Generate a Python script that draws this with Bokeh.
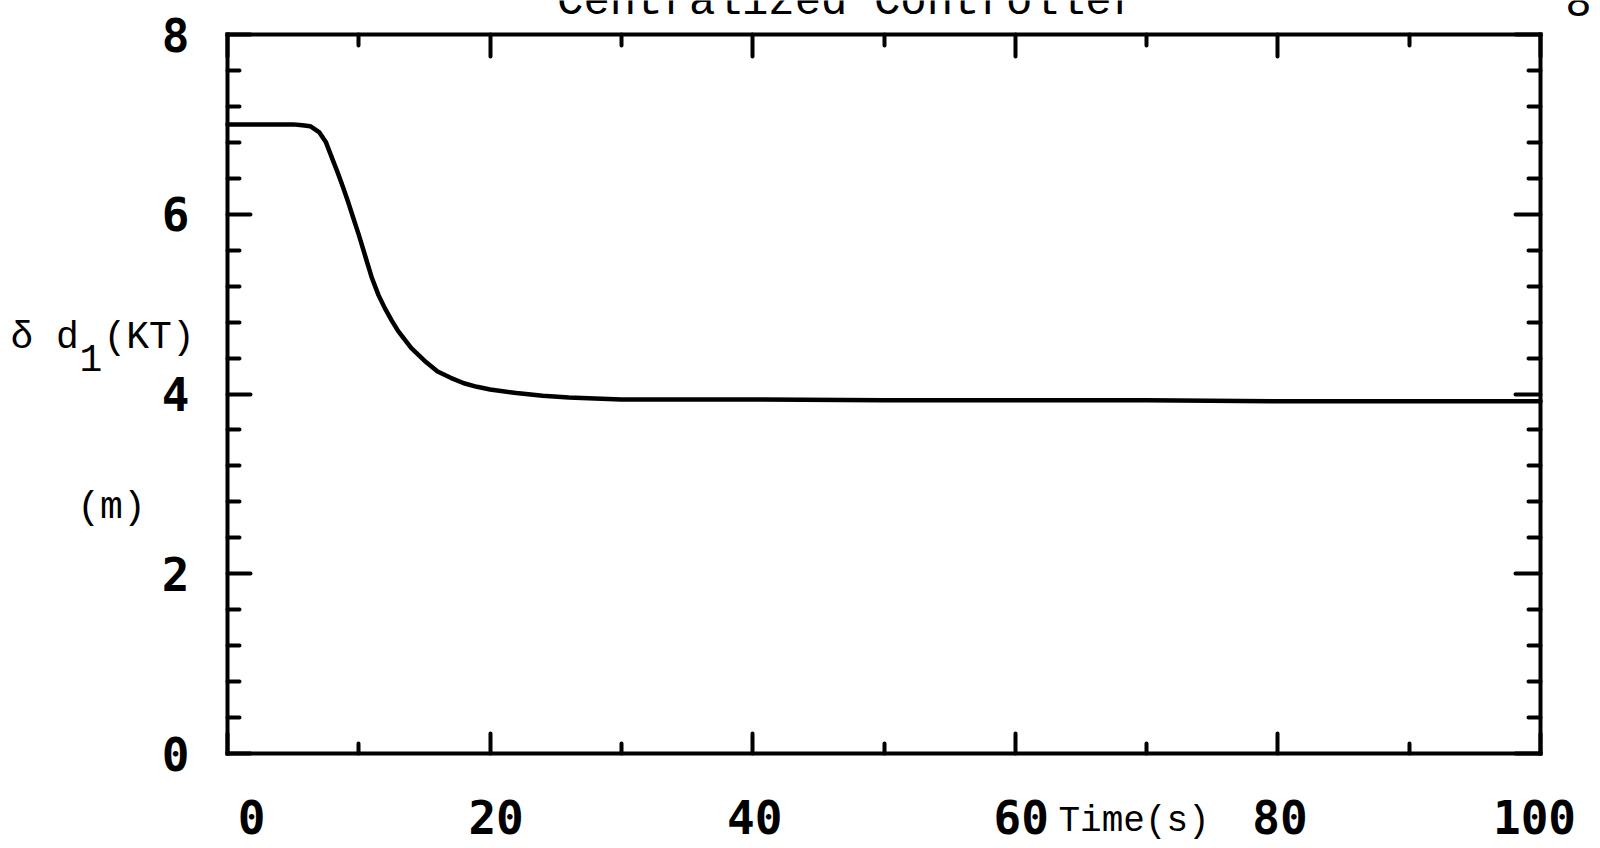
from bokeh.plotting import figure
from bokeh.models import FixedTicker, LinearAxis, Range1d, Label
from bokeh.core.properties import value
from bokeh.embed import file_html
from bokeh.resources import INLINE

# Response of delta d1 (KT) under the centralized controller
time_s = [0.0, 3.0, 5.0, 5.7, 6.3, 7.0, 7.5, 8.0, 8.4, 8.8, 9.2, 9.6, 10.0,
          10.5, 11.0, 11.5, 12.0, 12.5, 13.0, 14.0, 15.0, 16.0, 17.0, 18.0,
          19.0, 20.0, 22.0, 24.0, 26.0, 28.0, 30.0, 35.0, 40.0, 50.0, 60.0,
          70.0, 80.0, 90.0, 100.0]
delta_d1 = [7.00, 7.00, 7.00, 6.99, 6.98, 6.91, 6.80, 6.61, 6.46, 6.30, 6.13,
            5.95, 5.77, 5.53, 5.29, 5.10, 4.95, 4.82, 4.70, 4.51, 4.37, 4.25,
            4.18, 4.12, 4.08, 4.05, 4.01, 3.98, 3.96, 3.95, 3.94, 3.94, 3.94,
            3.93, 3.93, 3.93, 3.92, 3.92, 3.92]

x_major = [0, 20, 40, 60, 80, 100]
x_minor = [10, 30, 50, 70, 90]
x_tick_labels = ["0", "20", "40", "60", "80", "100"]
y_major = [0, 2, 4, 6, 8]
y_minor = [0.4, 0.8, 1.2, 1.6, 2.4, 2.8, 3.2, 3.6, 4.4, 4.8, 5.2, 5.6,
           6.4, 6.8, 7.2, 7.6]
y_tick_labels = ["0", "2", "4", "6", "8"]

# page geometry (pixels) of the plotting box
W, H = 1600, 848
LEFT, RIGHT, TOP, BOTTOM = 227, 1540, 34, 753
X0, X1, Y0, Y1 = 0, 100, 0, 8
KX = (RIGHT - LEFT) / (X1 - X0)
KY = (BOTTOM - TOP) / (Y1 - Y0)


def dx(px):
    return X0 + (px - LEFT) / KX


def dy(py):
    return Y0 + (BOTTOM - py) / KY


# the drawing area spans the whole page so that the texts around the box stay visible
p = figure(width=W, height=H, output_backend="svg", toolbar_location=None,
           x_range=Range1d(dx(0), dx(W)), y_range=Range1d(dy(H), dy(0)),
           min_border=0, min_border_left=0, min_border_right=0,
           min_border_top=0, min_border_bottom=0,
           x_axis_location=None, y_axis_location=None)
p.grid.visible = False
p.outline_line_color = None
p.background_fill_color = "white"
p.border_fill_color = "white"


def box_axis(loc, bounds, major, minor, long_len, short_len):
    ax = LinearAxis(fixed_location=loc, bounds=bounds)
    ax.ticker = FixedTicker(ticks=major, minor_ticks=minor)
    ax.axis_line_width = 4
    ax.axis_line_color = "black"
    ax.axis_line_cap = "square"
    ax.major_tick_line_width = 4
    ax.minor_tick_line_width = 4
    ax.major_tick_line_color = "black"
    ax.minor_tick_line_color = "black"
    ax.major_tick_line_cap = "round"
    ax.minor_tick_line_cap = "round"
    ax.major_tick_in = long_len
    ax.major_tick_out = 0
    ax.minor_tick_in = short_len
    ax.minor_tick_out = 0
    ax.major_label_text_font_size = "0px"
    ax.major_label_standoff = 0
    return ax


p.add_layout(box_axis(Y0, (X0, X1), x_major, x_minor, 20, 10), "below")
p.add_layout(box_axis(Y1, (X0, X1), x_major, x_minor, 22, 11), "above")
p.add_layout(box_axis(X0, (Y0, Y1), y_major, y_minor, 23, 12), "left")
p.add_layout(box_axis(X1, (Y0, Y1), y_major, y_minor, 25, 12), "right")

p.line(time_s, delta_d1, line_color="black", line_width=4.5,
       line_join="round", line_cap="round")

# tick numbers in the plotter face
tick_font = value("DejaVu Sans Mono")
x_nudge_px = [24, 6, 2, 6, 2, -6]
p.text(x=x_major, y=[dy(816)] * len(x_major), text=x_tick_labels,
       x_offset=x_nudge_px, text_font=tick_font, text_font_style="bold",
       text_font_size="46px", text_color="black",
       text_align="center", text_baseline="middle")
p.text(x=[dx(189)] * len(y_major), y=y_major, text=y_tick_labels,
       text_font=tick_font, text_font_style="bold",
       text_font_size="46px", text_color="black",
       text_align="right", text_baseline="middle")

mono = "Liberation Mono"


def add_text(text, px, py, size, align="left", baseline="middle"):
    p.add_layout(Label(x=dx(px), y=dy(py), text=text, text_font=mono,
                       text_font_size=size, text_color="black",
                       text_align=align, text_baseline=baseline))


# heading and page number, partly cut by the top edge
add_text("Centralized Controller", 847, 1, "44px", "center", "alphabetic")
add_text("8", 1578, 1, "44px", "center", "alphabetic")

# y-axis label
add_text("\u03b4 d", 10, 337, "38px")
add_text("1", 79, 357, "38px")
add_text("(KT)", 103, 337, "38px")
add_text("(m)", 111, 507, "38px", "center")

# x-axis label
add_text("Time(s)", 1058, 821, "36px")

open("out.html", "w").write(file_html(p, INLINE))
